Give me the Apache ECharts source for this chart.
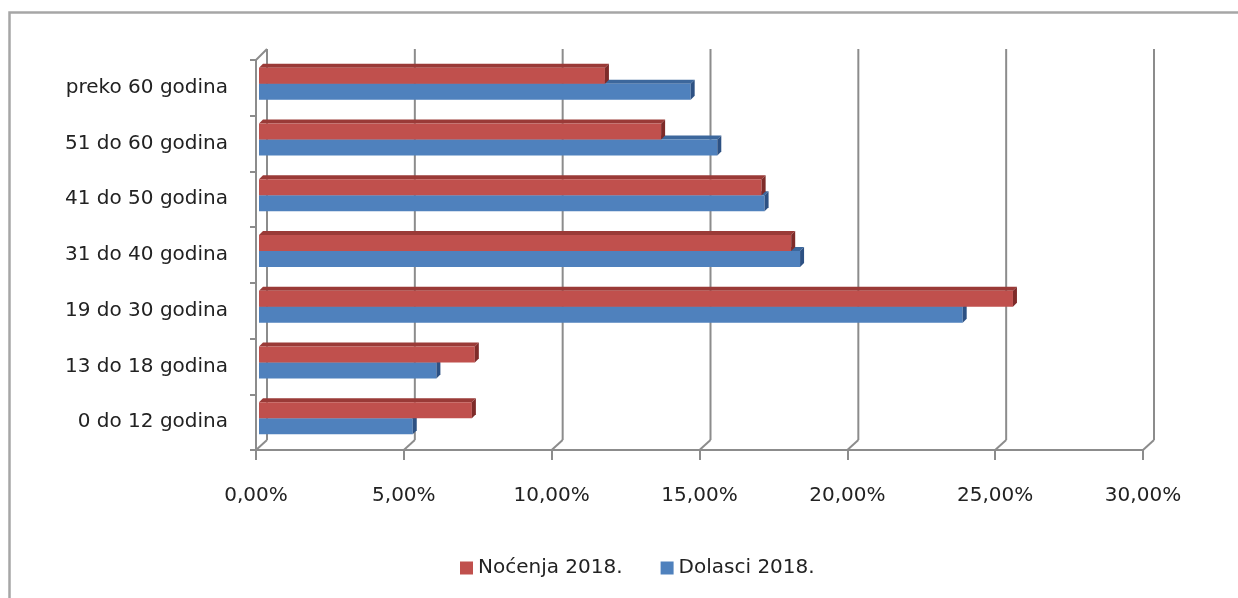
<!DOCTYPE html>
<html>
<head>
<meta charset="utf-8">
<script src="https://cdn.jsdelivr.net/npm/echarts@6/dist/echarts.min.js"></script>
<style>
html,body{margin:0;padding:0;background:#fff;}
#chart{width:1238px;height:598px;}
</style>
</head>
<body>
<div id="chart"></div>
<script>
// Categories listed bottom-to-top (as in the source chart)
const categories = ['0 do 12 godina', '13 do 18 godina', '19 do 30 godina', '31 do 40 godina', '41 do 50 godina', '51 do 60 godina', 'preko 60 godina'];
const nocenja = [7.2, 7.3, 25.5, 18.0, 17.0, 13.6, 11.7];
const dolasci = [5.2, 6.0, 23.8, 18.3, 17.1, 15.5, 14.6];
const xTicks = [0, 5, 10, 15, 20, 25, 30];
const seriesNames = ['Noćenja 2018.', 'Dolasci 2018.'];

const FONT = 'DejaVu Sans';
const TEXT = '#222';
const LINE = '#8c8c8c';

function fmtPct(v) { return v.toFixed(2).replace('.', ',') + '%'; }

function makeBar(isUpper, front, top, side) {
  return function (params, api) {
    const v = api.value(0), ci = api.value(1);
    const end = api.coord([v, ci]);
    const start = api.coord([0, ci]);
    const h = 16, dx = 4, dy = -4;
    const boundary = end[1] - 4;
    const y0 = isUpper ? boundary - h : boundary;
    const y1 = y0 + h;
    const x0 = start[0] + 3, x1 = end[0] + 3;
    return {
      type: 'group',
      children: [
        { type: 'polygon', shape: { points: [[x0, y0], [x1, y0], [x1 + dx, y0 + dy], [x0 + dx, y0 + dy]] }, style: { fill: top } },
        { type: 'rect', shape: { x: x0, y: y0, width: x1 - x0, height: h }, style: { fill: front } },
        { type: 'polygon', shape: { points: [[x1, y0], [x1 + dx, y0 + dy], [x1 + dx, y1 + dy], [x1, y1]] }, style: { fill: side } }
      ]
    };
  };
}

function frameItem(params, api) {
  const cs = params.coordSys;
  const v = api.value(0);
  const x = api.coord([v, 0])[0];
  const dx = 11, dyB = -10, dyT = -11;
  const bottom = cs.y + cs.height;
  const topBack = cs.y + dyT;
  const children = [
    { type: 'line', shape: { x1: x + dx, y1: topBack, x2: x + dx, y2: bottom + dyB }, style: { stroke: LINE, lineWidth: 2 } },
    { type: 'line', shape: { x1: x + dx, y1: bottom + dyB, x2: x, y2: bottom }, style: { stroke: LINE, lineWidth: 2 } }
  ];
  if (params.dataIndex === 0) {
    children.push({ type: 'line', shape: { x1: x, y1: cs.y, x2: x + dx, y2: topBack }, style: { stroke: LINE, lineWidth: 2 } });
  }
  return { type: 'group', children: children };
}

const chart = echarts.init(document.getElementById('chart'));
chart.setOption({
  animation: false,
  backgroundColor: '#fff',
  textStyle: { fontFamily: FONT },
  graphic: [{
    type: 'rect', silent: true, z: -10,
    shape: { x: 9.5, y: 12.5, width: 1400, height: 800 },
    style: { fill: 'none', stroke: '#a6a6a6', lineWidth: 2.5 }
  }],
  grid: { left: 256, right: 95, top: 60, bottom: 148, containLabel: false },
  xAxis: {
    type: 'value', min: 0, max: 30, interval: 5,
    axisLine: { show: true, lineStyle: { color: LINE, width: 2 } },
    axisTick: { show: true, length: 10, lineStyle: { color: LINE, width: 2 } },
    splitLine: { show: false },
    axisLabel: { formatter: fmtPct, color: TEXT, fontSize: 20, fontFamily: FONT, margin: 36 }
  },
  yAxis: {
    type: 'category', data: categories,
    axisLine: { show: true, lineStyle: { color: LINE, width: 2 } },
    axisTick: { show: true, length: 6, lineStyle: { color: LINE, width: 2 } },
    splitLine: { show: false },
    axisLabel: { color: TEXT, fontSize: 20, fontFamily: FONT, margin: 28 }
  },
  legend: {
    data: seriesNames,
    left: 455, top: 553,
    icon: 'rect', itemWidth: 13, itemHeight: 13, itemGap: 38,
    textStyle: { color: TEXT, fontSize: 20, fontFamily: FONT }
  },
  series: [
    {
      type: 'custom', name: 'frame', silent: true, z: 1,
      renderItem: frameItem,
      data: xTicks.map(v => [v])
    },
    {
      type: 'custom', name: seriesNames[1], z: 3,
      itemStyle: { color: '#4f81bd' },
      renderItem: makeBar(false, '#4f81bd', '#3c679c', '#2d5183'),
      encode: { x: 0, y: 1 },
      data: dolasci.map((v, i) => [v, i])
    },
    {
      type: 'custom', name: seriesNames[0], z: 4,
      itemStyle: { color: '#c0504d' },
      renderItem: makeBar(true, '#c0504d', '#9a3a37', '#7e2b29'),
      encode: { x: 0, y: 1 },
      data: nocenja.map((v, i) => [v, i])
    }
  ]
});
</script>
</body>
</html>
